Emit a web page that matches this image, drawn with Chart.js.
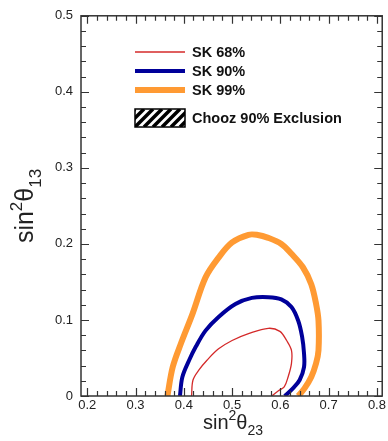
<!DOCTYPE html>
<html>
<head>
<meta charset="utf-8">
<script src="https://cdn.jsdelivr.net/npm/chart.js@4.4.1/dist/chart.umd.min.js"></script>
<style>
    body { margin: 0; background: #fff; }
    #wrap { position: relative; width: 388px; height: 441px; }
</style>
</head>
<body>
<div id="wrap"><canvas id="contourChart" width="388" height="441"></canvas></div>
<script>
// Tick labels
const xTicks = [0.2, 0.3, 0.4, 0.5, 0.6, 0.7, 0.8];
const yTicks = [0, 0.1, 0.2, 0.3, 0.4, 0.5];

// SK 68% contour (sin^2 theta23, sin^2 theta13)
const sk68X = [0.416, 0.419, 0.431, 0.448, 0.472, 0.500, 0.534, 0.575, 0.599, 0.613, 0.623, 0.623, 0.616, 0.608, 0.596, 0.582];
const sk68Y = [0.000, 0.021, 0.034, 0.047, 0.062, 0.073, 0.082, 0.089, 0.085, 0.073, 0.060, 0.043, 0.025, 0.012, 0.007, 0.000];

// SK 90% contour
const sk90X = [0.392, 0.397, 0.411, 0.425, 0.445, 0.472, 0.507, 0.541, 0.575, 0.602, 0.623, 0.637, 0.645, 0.649, 0.649, 0.640, 0.626, 0.609];
const sk90Y = [0.000, 0.025, 0.047, 0.065, 0.086, 0.104, 0.121, 0.129, 0.130, 0.127, 0.117, 0.099, 0.078, 0.056, 0.038, 0.021, 0.010, 0.000];

// SK 99% contour
const sk99X = [0.366, 0.377, 0.394, 0.418, 0.445, 0.472, 0.500, 0.534, 0.551, 0.575, 0.602, 0.623, 0.647, 0.664, 0.674, 0.679, 0.679, 0.674, 0.664, 0.650, 0.637];
const sk99Y = [0.000, 0.038, 0.069, 0.108, 0.156, 0.182, 0.202, 0.212, 0.212, 0.208, 0.200, 0.187, 0.169, 0.147, 0.121, 0.099, 0.060, 0.043, 0.025, 0.010, 0.000];

const legendLabels = ['SK 68%', 'SK 90%', 'SK 99%', 'Chooz 90% Exclusion'];

const toPoints = (xs, ys) => xs.map((x, i) => ({ x: x, y: ys[i] }));
const fmt = v => String(+Number(v).toFixed(1));

// Inward ticks on all four sides plus the frame
const frameTicks = {
    id: 'frameTicks',
    afterDatasetsDraw(chart) {
        const ctx = chart.ctx;
        const a = chart.chartArea;
        const xs = chart.scales.x, ys = chart.scales.y;
        ctx.save();
        ctx.strokeStyle = '#333';
        ctx.lineWidth = 1.2;
        ctx.beginPath();
        for (let i = 0; i <= 30; i++) {
            const px = Math.round(xs.getPixelForValue(0.2 + i * 0.02)) + 0.5;
            const len = i % 5 === 0 ? 8 : 5;
            ctx.moveTo(px, a.bottom);
            ctx.lineTo(px, a.bottom - len);
            ctx.moveTo(px, a.top);
            ctx.lineTo(px, a.top + len);
        }
        for (let i = 0; i <= 25; i++) {
            const py = Math.round(ys.getPixelForValue(i * 0.02)) + 0.5;
            const len = i % 5 === 0 ? 8 : 5;
            ctx.moveTo(a.left, py);
            ctx.lineTo(a.left + len, py);
            ctx.moveTo(a.right, py);
            ctx.lineTo(a.right - len, py);
        }
        ctx.stroke();
        ctx.lineWidth = 1.5;
        ctx.strokeRect(a.left, a.top, a.right - a.left, a.bottom - a.top);
        ctx.restore();
    }
};

// Legend and axis titles
const annotations = {
    id: 'annotations',
    afterDraw(chart) {
        const ctx = chart.ctx;
        const legendFont = 'bold 14.5px "Liberation Sans", Arial, sans-serif';
        const lines = [
            { y: 52, color: '#d42a2a', width: 1.3 },
            { y: 71, color: '#00009a', width: 4 },
            { y: 90, color: '#ff9a33', width: 6 }
        ];
        ctx.save();
        lines.forEach((l, i) => {
            ctx.strokeStyle = l.color;
            ctx.lineWidth = l.width;
            ctx.beginPath();
            ctx.moveTo(135, l.y);
            ctx.lineTo(185, l.y);
            ctx.stroke();
            ctx.fillStyle = '#111';
            ctx.font = legendFont;
            ctx.textBaseline = 'middle';
            ctx.fillText(legendLabels[i], 192, l.y + 1);
        });

        // hatched box
        const bx = 135, by = 109, bw = 50, bh = 18;
        ctx.save();
        ctx.beginPath();
        ctx.rect(bx, by, bw, bh);
        ctx.clip();
        ctx.fillStyle = '#fff';
        ctx.fillRect(bx, by, bw, bh);
        ctx.strokeStyle = '#000';
        ctx.lineWidth = 3.5;
        for (let s = bx - bh; s < bx + bw + bh; s += 9) {
            ctx.beginPath();
            ctx.moveTo(s, by + bh);
            ctx.lineTo(s + bh, by);
            ctx.stroke();
        }
        ctx.restore();
        ctx.strokeStyle = '#000';
        ctx.lineWidth = 1.5;
        ctx.strokeRect(bx, by, bw, bh);
        ctx.fillStyle = '#111';
        ctx.font = legendFont;
        ctx.textBaseline = 'middle';
        ctx.fillText(legendLabels[3], 192, by + bh / 2 + 1);

        // axis titles: sin^2 theta_23 and sin^2 theta_13
        const drawTitle = (sub, bigPx, smallPx) => {
            const big = bigPx + 'px "Liberation Sans", Arial, sans-serif';
            const small = smallPx + 'px "Liberation Sans", Arial, sans-serif';
            ctx.font = big;
            const w1 = ctx.measureText('sin').width;
            const w3 = ctx.measureText('\u03b8').width;
            ctx.font = small;
            const w2 = ctx.measureText('2').width;
            const w4 = ctx.measureText(sub).width;
            let x = -(w1 + w2 + w3 + w4) / 2;
            ctx.textBaseline = 'alphabetic';
            ctx.font = big; ctx.fillText('sin', x, 0); x += w1;
            ctx.font = small; ctx.fillText('2', x, -bigPx * 0.45); x += w2;
            ctx.font = big; ctx.fillText('\u03b8', x, 0); x += w3;
            ctx.font = small; ctx.fillText(sub, x, bigPx * 0.3);
        };
        ctx.fillStyle = '#222';
        ctx.save();
        ctx.translate(233, 429);
        drawTitle('23', 20, 14);
        ctx.restore();
        ctx.save();
        ctx.translate(33, 206);
        ctx.rotate(-Math.PI / 2);
        drawTitle('13', 25, 17);
        ctx.restore();
        ctx.restore();
    }
};

const tickFont = { family: '"Liberation Sans", Arial, sans-serif', size: 13 };

new Chart(document.getElementById('contourChart'), {
    type: 'scatter',
    data: {
        datasets: [
            { label: legendLabels[2], data: toPoints(sk99X, sk99Y), borderColor: '#ff9a33', borderWidth: 6 },
            { label: legendLabels[1], data: toPoints(sk90X, sk90Y), borderColor: '#00009a', borderWidth: 4 },
            { label: legendLabels[0], data: toPoints(sk68X, sk68Y), borderColor: '#d42a2a', borderWidth: 1.3 }
        ].map(d => Object.assign(d, { showLine: true, tension: 0.35, pointRadius: 0, fill: false }))
    },
    options: {
        responsive: false,
        animation: false,
        layout: { padding: { top: 13, right: 3, left: 0, bottom: 0 } },
        plugins: { legend: { display: false }, tooltip: { enabled: false } },
        scales: {
            x: {
                type: 'linear',
                min: 0.187,
                max: 0.811,
                afterBuildTicks: scale => { scale.ticks = xTicks.map(v => ({ value: v })); },
                afterFit: scale => { scale.height = 45; },
                grid: { display: false, drawTicks: false },
                border: { display: false },
                ticks: { autoSkip: false, maxRotation: 0, padding: 2, color: '#222', font: tickFont, callback: fmt }
            },
            y: {
                type: 'linear',
                min: 0,
                max: 0.5,
                afterBuildTicks: scale => { scale.ticks = yTicks.map(v => ({ value: v })); },
                afterFit: scale => { scale.width = 81; },
                grid: { display: false, drawTicks: false },
                border: { display: false },
                ticks: { padding: 8, color: '#222', font: tickFont, callback: fmt }
            }
        }
    },
    plugins: [frameTicks, annotations]
});
</script>
</body>
</html>
